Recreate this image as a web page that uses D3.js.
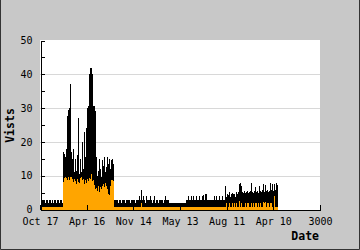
<!DOCTYPE html>
<html>
<head>
<meta charset="utf-8">
<script src="https://cdn.jsdelivr.net/npm/d3@7"></script>
<style>
  body { margin: 0; background: #fff; }
  #chartContainer { width: 360px; height: 250px; }
</style>
</head>
<body>
<div id="chartContainer"></div>
<script>
// visits per bin (black) and unique visitors per bin (orange), one bin per column
const visits = [
  2.8,2.8,2.8,2.8,2.0,2.8,2.8,2.0,2.8,2.8,2.0,2.8,2.0,2.8,2.8,2.0,2.8,2.8,2.0,2.8,2.8,2.0,
  17,16.5,15.5,18,27.8,29.5,30,37,17,15,18,11,15,11.5,16,27,10.5,15,11,20,12,23,15.5,24,
  30,30.5,40,42,42,40,30.5,30.5,29,15.5,10,11.5,15,12,9.5,14.5,13,15.5,11,12.5,15.5,13.5,15,12,14.5,15,13.5,
  2.8,2.8,2.8,2.8,2.0,2.8,2.8,2.0,2.8,2.8,
  2.8,2.0,2.8,2.8,2.8,2.8,2.0,2.8,2.8,2.8,
  2.8,2.0,2.8,2.8,2.8,3.9,2.8,5.8,2.8,3.9,
  2.8,2.0,3.9,2.8,2.8,2.8,3.9,2.8,2.0,2.8,
  3.9,2.0,2.8,2.8,2.0,2.8,2.8,2.8,2.8,2.0,
  2.8,3.9,2.8,2.8,2.8,2.0,2.0,2.0,2.0,2.0,
  2.0,2.0,2.0,2.0,2.0,2.0,2.0,2.0,2.0,2.0,
  2.0,2.0,2.8,2.8,3.9,2.8,2.8,3.9,2.8,3.9,
  2.8,2.8,3.9,2.8,2.8,3.9,2.8,2.8,3.9,4.4,
  2.8,4.7,4.7,2.8,2.8,2.8,2.8,2.8,2.8,2.8,
  3.9,2.8,3.9,2.8,2.8,3.9,2.8,2.8,3.9,2.8,
  2.8,6.9,
  3.6,4.7,4.2,5.2,3.6,4.7,5.0,4.5,4.7,3.8,5.2,4.7,5.2,7.4,7.7,6.9,5.2,5.0,5.5,4.8,5.2,5.5,4.8,5.2,5.5,7.7,
  5.2,5.0,5.5,6.6,5.2,5.5,5.0,6.9,5.5,5.2,5.7,7.4,5.2,7.2,5.5,5.7,5.2,5.5,7.7,5.7,7.4,5.5,7.4,5.7,7.7,7.2
];
const visitors = [
  0.7,0.7,0.7,0.7,0.7,0.7,0.7,0.7,0.7,0.7,0.7,0.7,0.7,0.7,0.7,0.7,0.7,0.7,0.7,0.7,0.7,0.7,
  8.2,9.3,9.6,9.3,8.7,9.6,8.8,9.7,9.7,9.0,8.2,9.0,8.5,7.6,9.0,8.2,7.8,9.4,9.6,8.8,9.0,7.4,8.6,7.8,
  9.0,8.5,9.2,9.0,10.6,8.3,8.6,7.2,6.0,6.5,5.4,7.0,5.2,6.8,6.0,7.0,7.5,6.8,7.7,7.0,6.0,4.5,4.3,7.0,8.7,8.7,8.5,
  0.7,0.7,0.7,0.7,0.7,0.7,0.7,0.7,0.7,0.7,
  0.7,0.7,0.7,0.7,0.7,0.7,0.7,0.7,0.7,0.7,
  0.7,0.7,0.7,0.7,0.7,0.7,0.7,1.9,0.7,0.7,
  0.7,0.7,0.7,0.7,0.7,0.7,0.7,0.7,0.7,0.7,
  0.7,0.7,0.7,0.7,0.7,0.7,0.7,0.7,0.7,0.7,
  0.7,0.7,0.7,0.7,0.7,0.7,0.7,0.7,0.7,0.7,
  0.7,0.7,0.7,0.7,0.7,0.7,0.7,0.7,0.7,0.7,
  0.7,0.7,0.7,0.7,0.7,0.7,0.7,0.7,0.7,0.7,
  0.7,0.7,0.7,0.7,0.7,0.7,0.7,0.7,0.7,0.7,
  0.7,0.7,0.7,0.7,0.7,0.7,0.7,0.7,0.7,0.7,
  0.7,0.7,0.7,0.7,0.7,0.7,0.7,0.7,0.7,0.7,
  0.7,0.7,
  1.9,0.7,0.7,2.0,0.7,0.7,1.9,0.7,2.0,0.7,1.9,0.7,0.7,2.6,0.7,1.9,0.7,0.7,0.7,2.0,0.7,1.9,2.0,0.7,0.7,1.9,
  0.7,2.0,0.7,2.0,1.9,0.7,2.0,0.7,1.9,0.7,0.7,2.3,2.0,2.3,0.7,2.0,2.0,0.7,1.9,2.0,0.7,0.7,3.9,0.7,0.7,0.7
];
const xTicks = [0, 500, 1000, 1500, 2000, 2500, 3000];
const xTickLabels = ["Oct 17", "Apr 16", "Nov 14", "May 13", "Aug 11", "Apr 10", "3000"];
const yTicks = [0, 10, 20, 30, 40, 50];
const yMinorTicks = [5, 15, 25, 35, 45];
const gridValues = [10, 20, 30, 40];
const binWidth = 3000 / 280;

(function() {
    const chartContainer = document.getElementById('chartContainer');
    const fullWidth = 360;
    const fullHeight = 250;
    const margin = {top: 40, right: 40, bottom: 40, left: 40};

    const x = d3.scaleLinear().domain([0, 3000]).range([margin.left, fullWidth - margin.right]);
    const y = d3.scaleLinear().domain([0, 50]).range([209.5, 40.5]);

    const svg = d3.create("svg")
        .attr("width", fullWidth)
        .attr("height", fullHeight)
        .attr("viewBox", [0, 0, fullWidth, fullHeight])
        .style("font-family", "'DejaVu Sans Mono', monospace");

    // grey page + frame
    svg.append("rect")
        .attr("width", fullWidth).attr("height", fullHeight)
        .attr("fill", "#c8c8c8");
    svg.append("path")
        .attr("d", `M0.5,0 V${fullHeight - 0.5} H${fullWidth - 0.5} V0`)
        .attr("fill", "none")
        .attr("stroke", "#333");

    // plot area
    svg.append("rect")
        .attr("x", margin.left).attr("y", margin.top)
        .attr("width", fullWidth - margin.left - margin.right)
        .attr("height", fullHeight - margin.top - margin.bottom)
        .attr("fill", "#fff");

    // gridlines
    svg.append("g")
        .selectAll("line")
        .data(gridValues)
        .join("line")
          .attr("x1", x(0)).attr("x2", x(3000))
          .attr("y1", d => Math.round(y(d)) + 0.5)
          .attr("y2", d => Math.round(y(d)) + 0.5)
          .attr("stroke", "#d8d8d8");

    // bars: visits behind, visitors in front
    const barX = i => x((i + 1) * binWidth);
    svg.append("g")
        .attr("shape-rendering", "crispEdges")
        .selectAll("rect")
        .data(visits)
        .join("rect")
          .attr("x", (d, i) => barX(i))
          .attr("width", (d, i) => barX(i + 1) - barX(i))
          .attr("y", d => y(d))
          .attr("height", d => y(0) - y(d))
          .attr("fill", "#000");

    svg.append("g")
        .attr("shape-rendering", "crispEdges")
        .selectAll("rect")
        .data(visitors)
        .join("rect")
          .attr("x", (d, i) => barX(i))
          .attr("width", (d, i) => barX(i + 1) - barX(i))
          .attr("y", d => y(d))
          .attr("height", d => y(0) - y(d))
          .attr("fill", "#ffa500");

    // y axis (ticks point inward)
    svg.append("g")
        .attr("transform", `translate(${margin.left + 0.5},0)`)
        .call(d3.axisLeft(y).tickValues(yTicks).tickSize(-4).tickSizeOuter(0).tickPadding(8));
    svg.append("g")
        .attr("transform", `translate(${margin.left + 0.5},0)`)
        .call(d3.axisLeft(y).tickValues(yMinorTicks).tickFormat("").tickSize(-4).tickSizeOuter(0))
        .select(".domain").remove();

    // x axis
    svg.append("g")
        .attr("transform", `translate(0,${y(0)})`)
        .call(d3.axisBottom(x).tickValues(xTicks)
            .tickFormat((d, i) => xTickLabels[i])
            .tickSize(-5).tickSizeOuter(0).tickPadding(8));

    svg.selectAll(".tick text")
        .attr("font-family", "'DejaVu Sans Mono', monospace")
        .attr("font-size", 10)
        .attr("fill", "#000");
    svg.selectAll(".domain, .tick line")
        .attr("stroke", "#000")
        .attr("shape-rendering", "crispEdges");

    // axis titles
    svg.append("text")
        .attr("transform", `translate(14,125.5) rotate(-90)`)
        .attr("text-anchor", "middle")
        .attr("font-weight", "bold")
        .attr("font-size", 11.5)
        .text("Vists");

    svg.append("text")
        .attr("x", 319)
        .attr("y", 240)
        .attr("text-anchor", "end")
        .attr("font-weight", "bold")
        .attr("font-size", 11.5)
        .text("Date");

    chartContainer.append(svg.node());
})();
</script>
</body>
</html>
